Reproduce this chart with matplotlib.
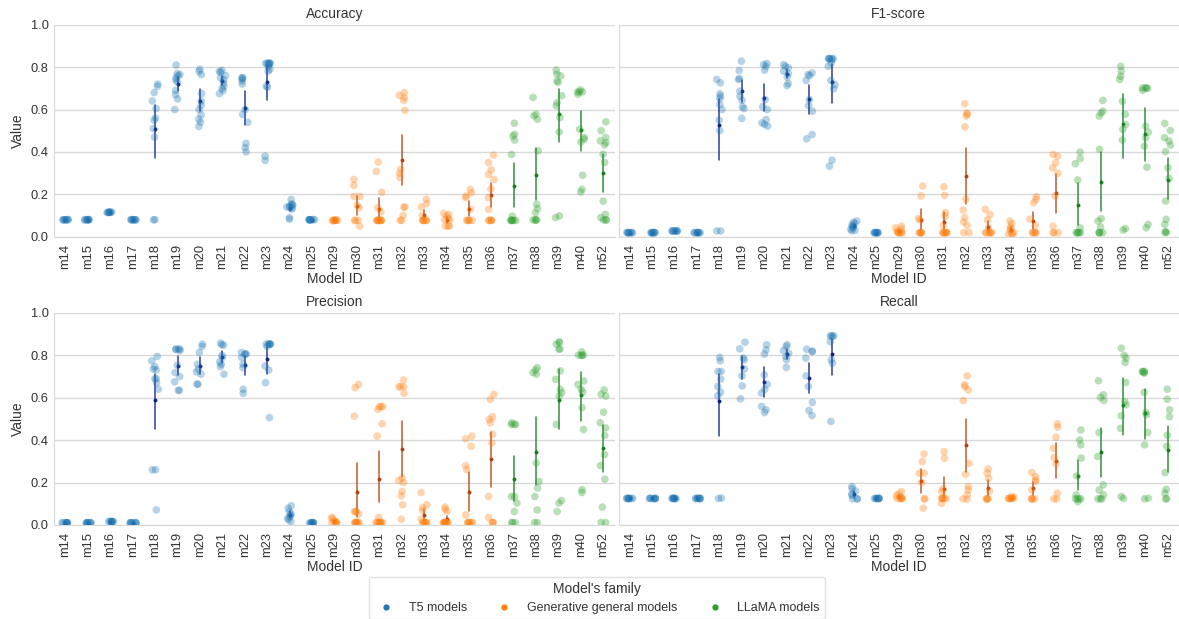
import numpy as np
import pandas as pd
import matplotlib
matplotlib.use("Agg")
import matplotlib.pyplot as plt
from matplotlib.lines import Line2D
import seaborn as sns

MODELS = ["m14", "m15", "m16", "m17", "m18", "m19", "m20", "m21", "m22", "m23", "m24", "m25",
          "m29", "m30", "m31", "m32", "m33", "m34", "m35", "m36",
          "m37", "m38", "m39", "m40", "m52"]
T5_MODELS = ["m14", "m15", "m16", "m17", "m18", "m19", "m20", "m21", "m22", "m23", "m24", "m25"]
GEN_MODELS = ["m29", "m30", "m31", "m32", "m33", "m34", "m35", "m36"]
LLAMA_MODELS = ["m37", "m38", "m39", "m40", "m52"]
FAMILIES = ["T5 models", "Generative general models", "LLaMA models"]
METRICS = ["Accuracy", "F1-score", "Precision", "Recall"]

ACCURACY = {
    "m14": [0.079, 0.080, 0.080, 0.080, 0.081, 0.080, 0.079, 0.080],
    "m15": [0.079, 0.080, 0.080, 0.080, 0.081, 0.080, 0.079, 0.080],
    "m16": [0.114, 0.115, 0.116, 0.115, 0.114, 0.116, 0.115, 0.115],
    "m17": [0.079, 0.080, 0.080, 0.080, 0.081, 0.080, 0.079, 0.080],
    "m18": [0.72, 0.71, 0.68, 0.64, 0.605, 0.56, 0.55, 0.51, 0.47, 0.08, 0.08],
    "m19": [0.81, 0.77, 0.765, 0.76, 0.75, 0.74, 0.73, 0.69, 0.67, 0.65, 0.60],
    "m20": [0.79, 0.78, 0.765, 0.675, 0.64, 0.62, 0.60, 0.575, 0.555, 0.54, 0.52],
    "m21": [0.785, 0.78, 0.775, 0.76, 0.75, 0.74, 0.725, 0.71, 0.70, 0.69, 0.675],
    "m22": [0.75, 0.75, 0.745, 0.735, 0.72, 0.60, 0.577, 0.54, 0.44, 0.42, 0.40],
    "m23": [0.818, 0.818, 0.818, 0.818, 0.818, 0.818, 0.81, 0.80, 0.79, 0.78, 0.71, 0.705, 0.38, 0.36],
    "m24": [0.175, 0.155, 0.15, 0.15, 0.145, 0.14, 0.14, 0.135, 0.13, 0.09, 0.082],
    "m25": [0.079, 0.080, 0.080, 0.080, 0.081, 0.080, 0.079, 0.080],
    "m29": [0.075, 0.077, 0.078, 0.076, 0.077, 0.079, 0.077, 0.078],
    "m30": [0.27, 0.242, 0.19, 0.19, 0.148, 0.137, 0.077, 0.077, 0.077, 0.05],
    "m31": [0.352, 0.308, 0.21, 0.137, 0.118, 0.077, 0.077, 0.077, 0.077, 0.077, 0.077, 0.077, 0.077, 0.077],
    "m32": [0.68, 0.667, 0.656, 0.643, 0.596, 0.318, 0.30, 0.28, 0.14, 0.14, 0.10, 0.077, 0.077],
    "m33": [0.176, 0.156, 0.14, 0.10, 0.077, 0.077, 0.077, 0.077, 0.077, 0.077],
    "m34": [0.11, 0.105, 0.097, 0.086, 0.08, 0.077, 0.05, 0.05, 0.05],
    "m35": [0.223, 0.207, 0.192, 0.184, 0.129, 0.077, 0.077, 0.077, 0.077, 0.077],
    "m36": [0.385, 0.35, 0.315, 0.294, 0.27, 0.226, 0.184, 0.129, 0.077, 0.077, 0.077, 0.077, 0.077],
    "m37": [0.535, 0.483, 0.475, 0.456, 0.388, 0.097, 0.077, 0.077, 0.077, 0.077, 0.077, 0.077],
    "m38": [0.657, 0.578, 0.57, 0.554, 0.405, 0.153, 0.132, 0.113, 0.079, 0.079, 0.079, 0.079],
    "m39": [0.786, 0.767, 0.759, 0.735, 0.728, 0.665, 0.633, 0.617, 0.562, 0.494, 0.098, 0.09],
    "m40": [0.693, 0.683, 0.683, 0.683, 0.672, 0.507, 0.468, 0.46, 0.447, 0.29, 0.224, 0.211],
    "m52": [0.542, 0.5, 0.468, 0.452, 0.444, 0.433, 0.389, 0.35, 0.168, 0.105, 0.09, 0.079, 0.079, 0.079],
}

F1_SCORE = {
    "m14": [0.018, 0.019, 0.019, 0.019, 0.020, 0.019, 0.019, 0.019],
    "m15": [0.018, 0.019, 0.019, 0.019, 0.020, 0.019, 0.019, 0.019],
    "m16": [0.026, 0.027, 0.027, 0.028, 0.027, 0.027, 0.026, 0.027],
    "m17": [0.018, 0.019, 0.019, 0.019, 0.020, 0.019, 0.019, 0.019],
    "m18": [0.742, 0.726, 0.674, 0.663, 0.652, 0.624, 0.6, 0.55, 0.50, 0.027, 0.027],
    "m19": [0.828, 0.784, 0.746, 0.742, 0.687, 0.663, 0.643, 0.613, 0.605, 0.558],
    "m20": [0.817, 0.812, 0.804, 0.786, 0.647, 0.613, 0.6, 0.553, 0.537, 0.53, 0.522],
    "m21": [0.812, 0.804, 0.797, 0.781, 0.77, 0.753, 0.723, 0.713],
    "m22": [0.773, 0.765, 0.76, 0.737, 0.647, 0.619, 0.592, 0.482, 0.462],
    "m23": [0.84, 0.84, 0.84, 0.84, 0.84, 0.835, 0.82, 0.804, 0.737, 0.718, 0.698, 0.361, 0.333],
    "m24": [0.074, 0.068, 0.063, 0.055, 0.05, 0.045, 0.042, 0.035, 0.03, 0.027],
    "m25": [0.018, 0.019, 0.019, 0.019, 0.020, 0.019, 0.019, 0.019],
    "m29": [0.05, 0.042, 0.035, 0.027, 0.02, 0.019, 0.019, 0.019, 0.019, 0.019],
    "m30": [0.239, 0.192, 0.085, 0.079, 0.019, 0.019, 0.019, 0.019, 0.019],
    "m31": [0.236, 0.195, 0.113, 0.097, 0.053, 0.019, 0.019, 0.019, 0.019, 0.019, 0.019, 0.019],
    "m32": [0.628, 0.584, 0.577, 0.569, 0.518, 0.176, 0.126, 0.09, 0.069, 0.053, 0.019, 0.019],
    "m33": [0.129, 0.105, 0.079, 0.042, 0.019, 0.019, 0.019, 0.019, 0.019, 0.019],
    "m34": [0.074, 0.061, 0.045, 0.038, 0.03, 0.019, 0.015, 0.011, 0.011],
    "m35": [0.189, 0.176, 0.16, 0.082, 0.053, 0.019, 0.019, 0.019, 0.019, 0.019],
    "m36": [0.388, 0.38, 0.349, 0.325, 0.299, 0.192, 0.05, 0.019, 0.019, 0.019],
    "m37": [0.399, 0.368, 0.344, 0.267, 0.042, 0.019, 0.019, 0.019, 0.019, 0.019],
    "m38": [0.643, 0.592, 0.584, 0.569, 0.412, 0.085, 0.074, 0.046, 0.019, 0.019, 0.019, 0.019],
    "m39": [0.804, 0.781, 0.757, 0.742, 0.639, 0.577, 0.529, 0.506, 0.456, 0.038, 0.031],
    "m40": [0.702, 0.702, 0.702, 0.70, 0.691, 0.522, 0.493, 0.467, 0.427, 0.328, 0.058, 0.042],
    "m52": [0.534, 0.501, 0.467, 0.451, 0.432, 0.401, 0.325, 0.275, 0.168, 0.082, 0.058, 0.024, 0.02, 0.02],
}

PRECISION = {
    "m14": [0.010, 0.010, 0.011, 0.010, 0.009, 0.010, 0.010, 0.010],
    "m15": [0.010, 0.010, 0.011, 0.010, 0.009, 0.010, 0.010, 0.010],
    "m16": [0.015, 0.016, 0.016, 0.017, 0.016, 0.016, 0.015, 0.016],
    "m17": [0.010, 0.010, 0.011, 0.010, 0.009, 0.010, 0.010, 0.010],
    "m18": [0.795, 0.774, 0.747, 0.735, 0.731, 0.69, 0.69, 0.671, 0.64, 0.26, 0.26, 0.071],
    "m19": [0.83, 0.829, 0.829, 0.829, 0.822, 0.754, 0.719, 0.7, 0.675, 0.635, 0.635],
    "m20": [0.853, 0.842, 0.814, 0.758, 0.735, 0.722, 0.711, 0.664, 0.664],
    "m21": [0.858, 0.85, 0.848, 0.80, 0.79, 0.769, 0.758, 0.747, 0.711],
    "m22": [0.814, 0.806, 0.806, 0.806, 0.79, 0.758, 0.742, 0.64, 0.621],
    "m23": [0.853, 0.853, 0.853, 0.853, 0.853, 0.853, 0.842, 0.75, 0.731, 0.671, 0.506],
    "m24": [0.09, 0.079, 0.063, 0.052, 0.045, 0.039, 0.032, 0.024, 0.016],
    "m25": [0.010, 0.010, 0.011, 0.010, 0.009, 0.010, 0.010, 0.010],
    "m29": [0.036, 0.03, 0.02, 0.016, 0.011, 0.011, 0.011, 0.011],
    "m30": [0.663, 0.648, 0.513, 0.063, 0.063, 0.063, 0.052, 0.011, 0.011, 0.011, 0.011, 0.011, 0.011, 0.011],
    "m31": [0.558, 0.558, 0.558, 0.545, 0.477, 0.419, 0.035, 0.011, 0.011, 0.011, 0.011, 0.011, 0.011, 0.011, 0.011],
    "m32": [0.684, 0.652, 0.652, 0.652, 0.621, 0.221, 0.21, 0.2, 0.158, 0.137, 0.095, 0.027],
    "m33": [0.153, 0.095, 0.082, 0.068, 0.027, 0.011, 0.011, 0.011, 0.011, 0.011, 0.011],
    "m34": [0.084, 0.074, 0.063, 0.011, 0.011, 0.011, 0.011, 0.011, 0.011, 0.011, 0.011, 0.011],
    "m35": [0.419, 0.406, 0.371, 0.28, 0.261, 0.047, 0.011, 0.011, 0.011, 0.011, 0.011, 0.011],
    "m36": [0.616, 0.592, 0.51, 0.498, 0.482, 0.427, 0.387, 0.134, 0.035, 0.011, 0.011, 0.011],
    "m37": [0.482, 0.474, 0.474, 0.474, 0.134, 0.134, 0.103, 0.063, 0.011, 0.011, 0.011],
    "m38": [0.742, 0.731, 0.719, 0.711, 0.292, 0.205, 0.174, 0.134, 0.071, 0.011, 0.011],
    "m39": [0.864, 0.86, 0.853, 0.83, 0.829, 0.727, 0.687, 0.64, 0.624, 0.608, 0.474, 0.115, 0.103, 0.063],
    "m40": [0.817, 0.801, 0.801, 0.801, 0.80, 0.679, 0.663, 0.64, 0.627, 0.553, 0.45, 0.166, 0.153],
    "m52": [0.637, 0.616, 0.608, 0.532, 0.482, 0.458, 0.422, 0.332, 0.28, 0.216, 0.084, 0.011, 0.011],
}

RECALL = {
    "m14": [0.124, 0.125, 0.125, 0.126, 0.125, 0.125, 0.124, 0.125],
    "m15": [0.124, 0.125, 0.125, 0.126, 0.125, 0.125, 0.124, 0.125],
    "m16": [0.124, 0.125, 0.125, 0.126, 0.125, 0.125, 0.124, 0.125],
    "m17": [0.124, 0.125, 0.125, 0.126, 0.125, 0.125, 0.124, 0.125],
    "m18": [0.79, 0.774, 0.724, 0.724, 0.688, 0.653, 0.626, 0.609, 0.126, 0.125],
    "m19": [0.862, 0.831, 0.787, 0.779, 0.736, 0.703, 0.656, 0.595],
    "m20": [0.85, 0.826, 0.806, 0.708, 0.664, 0.64, 0.622, 0.559, 0.543, 0.53],
    "m21": [0.85, 0.842, 0.823, 0.81, 0.795, 0.779, 0.743],
    "m22": [0.829, 0.82, 0.818, 0.787, 0.703, 0.653, 0.578, 0.54, 0.516],
    "m23": [0.892, 0.892, 0.892, 0.89, 0.865, 0.779, 0.763, 0.488],
    "m24": [0.181, 0.17, 0.16, 0.146, 0.14, 0.123, 0.123, 0.123],
    "m25": [0.124, 0.125, 0.125, 0.126, 0.125, 0.125, 0.124, 0.125],
    "m29": [0.157, 0.146, 0.14, 0.131, 0.125, 0.125, 0.125, 0.125, 0.125],
    "m30": [0.335, 0.299, 0.244, 0.244, 0.2, 0.123, 0.123, 0.079],
    "m31": [0.346, 0.315, 0.17, 0.157, 0.125, 0.125, 0.125, 0.125, 0.125, 0.102],
    "m32": [0.703, 0.661, 0.653, 0.637, 0.587, 0.291, 0.239, 0.181, 0.165, 0.142, 0.123, 0.121],
    "m33": [0.264, 0.244, 0.22, 0.16, 0.123, 0.123, 0.123, 0.123],
    "m34": [0.134, 0.13, 0.125, 0.125, 0.125, 0.125, 0.125, 0.125],
    "m35": [0.247, 0.228, 0.212, 0.205, 0.165, 0.123, 0.123, 0.123, 0.123],
    "m36": [0.477, 0.461, 0.414, 0.362, 0.318, 0.288, 0.15, 0.123, 0.123],
    "m37": [0.448, 0.401, 0.378, 0.315, 0.231, 0.142, 0.123, 0.123, 0.123, 0.123, 0.11],
    "m38": [0.68, 0.614, 0.601, 0.587, 0.436, 0.323, 0.189, 0.165, 0.142, 0.123, 0.123, 0.123],
    "m39": [0.834, 0.8, 0.787, 0.766, 0.672, 0.582, 0.567, 0.515, 0.456, 0.134, 0.125],
    "m40": [0.724, 0.724, 0.724, 0.72, 0.716, 0.625, 0.53, 0.519, 0.436, 0.378, 0.126, 0.123],
    "m52": [0.64, 0.593, 0.543, 0.511, 0.423, 0.37, 0.247, 0.168, 0.15, 0.123, 0.123],
}

METRIC_DATA = {"Accuracy": ACCURACY, "F1-score": F1_SCORE, "Precision": PRECISION, "Recall": RECALL}

LIGHT = {"T5 models": "#1f77b4", "Generative general models": "#ff7f0e", "LLaMA models": "#2ca02c"}
DARK = {"T5 models": "#0b1f80", "Generative general models": "#b0400c", "LLaMA models": "#147a1c"}


def family_of(m):
    if m in T5_MODELS:
        return FAMILIES[0]
    if m in GEN_MODELS:
        return FAMILIES[1]
    return FAMILIES[2]


rows = []
for metric in METRICS:
    for m in MODELS:
        for v in METRIC_DATA[metric][m]:
            rows.append({"metric": metric, "model": m, "family": family_of(m), "value": v})
df = pd.DataFrame(rows)

sns.set_style("whitegrid", {"grid.color": ".85", "axes.edgecolor": ".85"})
plt.rcParams["font.family"] = ["Liberation Sans", "DejaVu Sans"]
plt.rcParams["text.color"] = "#333333"
plt.rcParams["xtick.color"] = "#333333"
plt.rcParams["ytick.color"] = "#333333"
plt.rcParams["axes.labelcolor"] = "#333333"

fig, axes = plt.subplots(2, 2, figsize=(11.79, 6.19), dpi=100, sharey=True)
fig.subplots_adjust(left=0.046, right=1.0, top=0.96, bottom=0.152, hspace=0.36, wspace=0.007)

np.random.seed(3)
for ax, metric in zip(axes.flat, METRICS):
    sub = df[df["metric"] == metric]
    sns.stripplot(data=sub, x="model", y="value", hue="family", order=MODELS,
                  hue_order=FAMILIES, palette=LIGHT, alpha=0.33, size=5.5,
                  jitter=0.15, linewidth=0, ax=ax, legend=False, dodge=False)
    sns.pointplot(data=sub, x="model", y="value", hue="family", order=MODELS,
                  hue_order=FAMILIES, palette=DARK, errorbar=("ci", 95), seed=0,
                  linestyle="none", markers="o", markersize=2.2, markeredgewidth=0.6,
                  err_kws={"linewidth": 1.1, "alpha": 0.85},
                  ax=ax, legend=False, dodge=False)
    ax.set_title(metric, fontsize=10, pad=5)
    ax.set_ylim(0, 1.0)
    ax.set_yticks([0.0, 0.2, 0.4, 0.6, 0.8, 1.0])
    ax.set_xlim(-0.5, len(MODELS) - 0.5)
    ax.set_xlabel("Model ID", fontsize=10, labelpad=2)
    ax.tick_params(axis="x", labelrotation=90, labelsize=9.3, pad=5, length=0)
    ax.tick_params(axis="y", labelsize=9.3, pad=4, length=0)
    ax.grid(axis="x", visible=False)
    ax.grid(axis="y", color=".85", linewidth=1)
    for side in ["top", "right"]:
        ax.spines[side].set_visible(False)
    for side in ["left", "bottom"]:
        ax.spines[side].set_color(".85")

for ax in axes[:, 0]:
    ax.set_ylabel("Value", fontsize=10)
    ax.yaxis.set_major_formatter(matplotlib.ticker.FormatStrFormatter("%.1f"))
for ax in axes[:, 1]:
    ax.set_ylabel("")
    ax.tick_params(axis="y", labelleft=False)

handles = [Line2D([0], [0], marker="o", linestyle="none", markersize=3.5,
                  markerfacecolor=LIGHT[f], markeredgecolor=LIGHT[f], label=f) for f in FAMILIES]
leg = fig.legend(handles=handles, title="Model's family", loc="upper center",
                 bbox_to_anchor=(0.506, 0.068), ncol=3, fontsize=9, title_fontsize=10,
                 frameon=True, borderaxespad=0.0)
leg.get_frame().set_edgecolor(".85")

fig.savefig("out.png", dpi=100)
